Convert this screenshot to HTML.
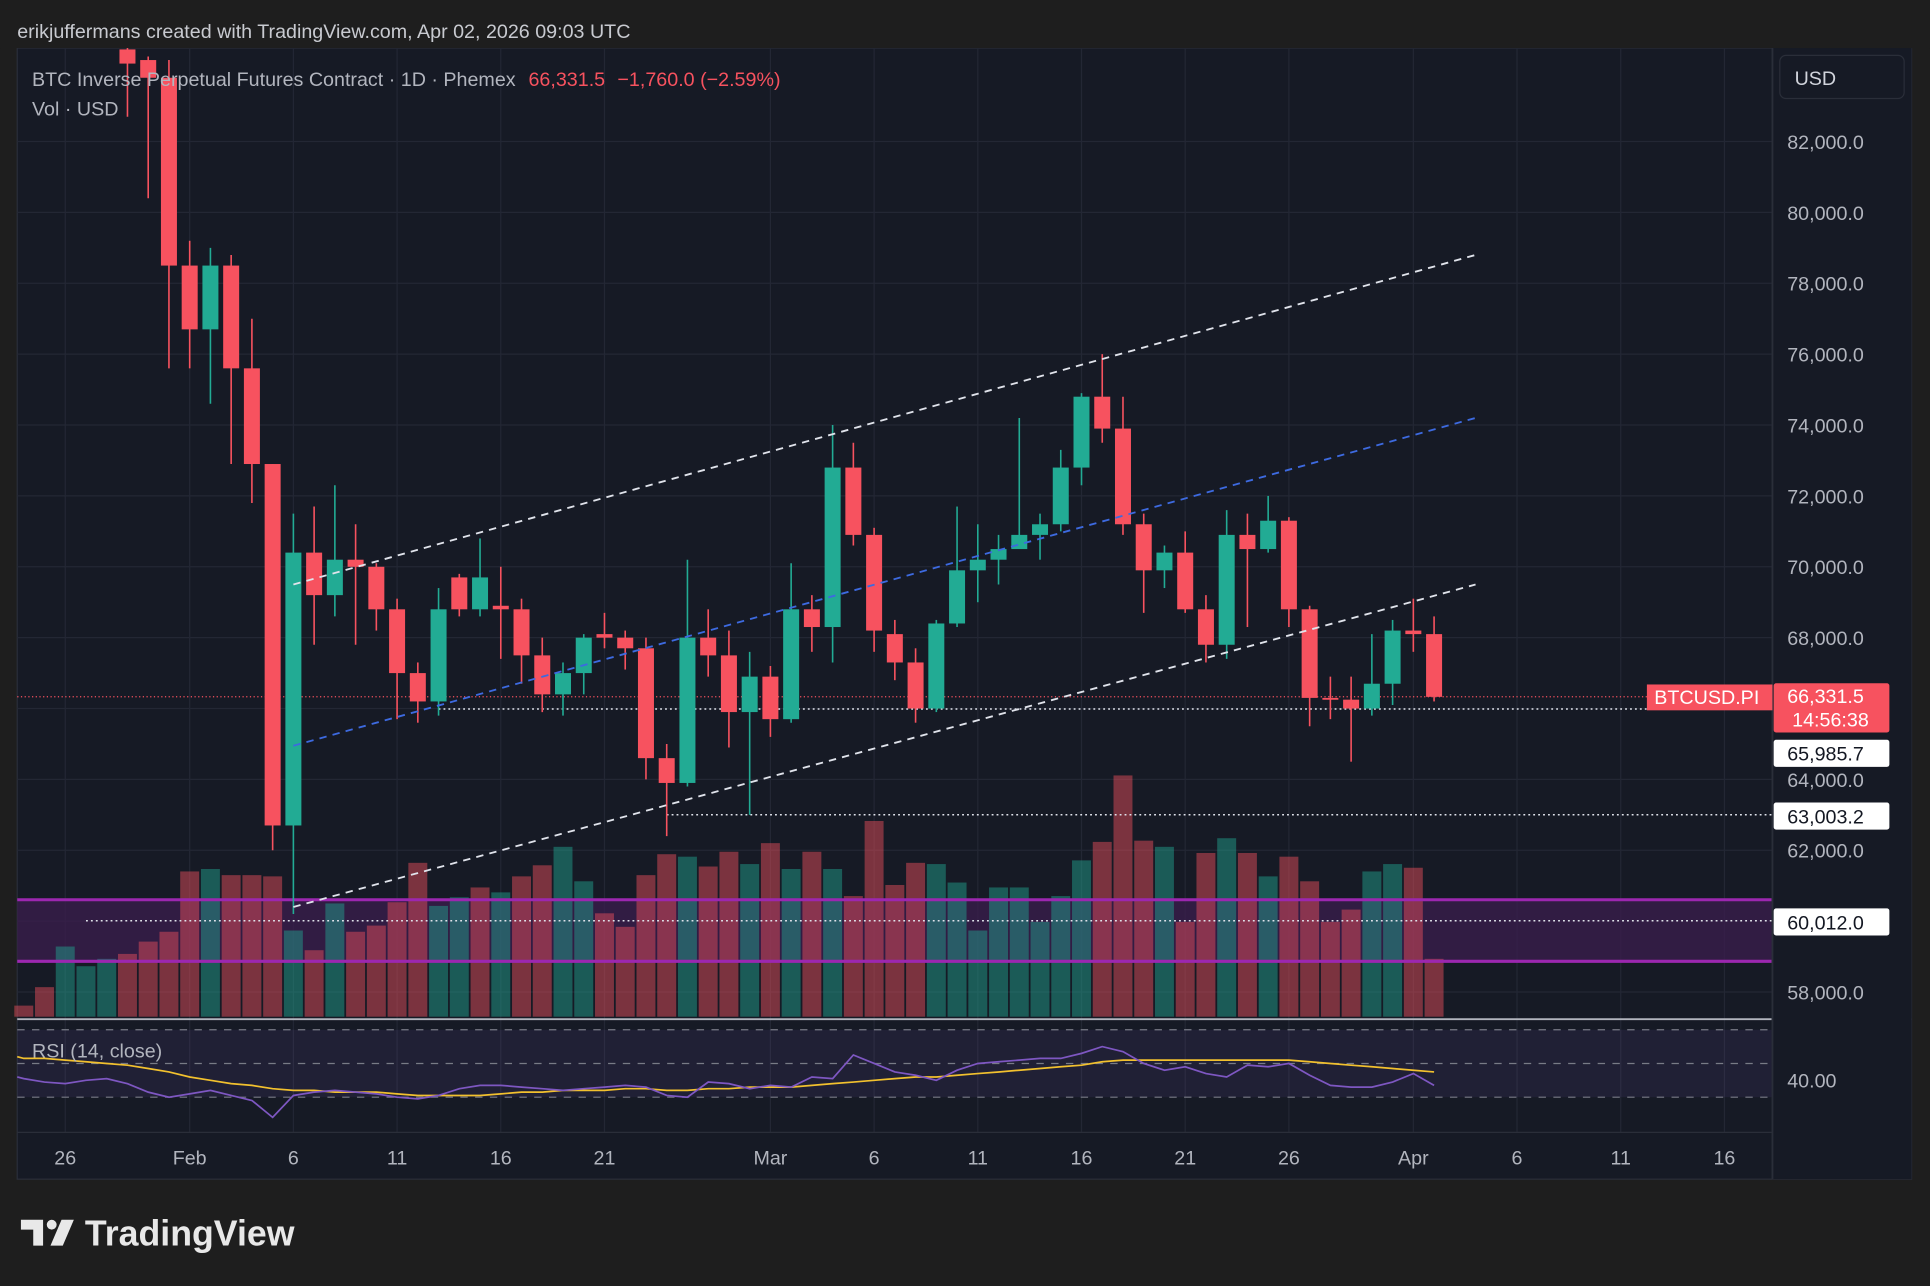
<!DOCTYPE html>
<html><head><meta charset="utf-8">
<style>
html,body{margin:0;padding:0;background:#1e1e1e;}
svg{display:block;font-family:"Liberation Sans",sans-serif;}
</style></head>
<body>
<svg id="c" width="1930" height="1286" viewBox="0 0 1568 1044.8" xmlns="http://www.w3.org/2000/svg">
<rect x="0" y="0" width="1568" height="1045" fill="#1e1e1e"/>
<rect x="14" y="39" width="1539" height="919" fill="#161a25" stroke="#2a2e39"/>
<g id="grid"></g>
<g id="zone"></g>
<g id="vol"></g>
<g id="hlines"></g>
<g id="candles"></g>
<g id="trend"></g>
<g id="rsi"></g>
<g id="axes"></g>
<text x="14" y="31" font-size="16" fill="#c8cad0">erikjuffermans created with TradingView.com, Apr 02, 2026 09:03 UTC</text>
<text x="26" y="70" font-size="16" fill="#b2b5be">BTC Inverse Perpetual Futures Contract · 1D · Phemex <tspan fill="#f7525f" dx="6">66,331.5</tspan><tspan fill="#f7525f" dx="10">−1,760.0 (−2.59%)</tspan></text>
<text x="26" y="94" font-size="16" fill="#b2b5be">Vol · USD</text>
<text x="26" y="859" font-size="16" fill="#b2b5be">RSI (14, close)</text>
<rect x="1446" y="45" width="101" height="35" rx="5" fill="#161a25" stroke="#2a2e39"/>
<text x="1458" y="69" font-size="16" fill="#d1d4dc">USD</text>
<g>
<path d="M17 991 H35 V1012 H27 V999 H17 Z" fill="#e8e8e8"/>
<circle cx="42" cy="995" r="4" fill="#e8e8e8"/>
<path d="M50 991 H60 L51 1012 H41 Z" fill="#e8e8e8"/>
<text x="69" y="1012" font-size="29" font-weight="bold" fill="#e8e8e8">TradingView</text>
</g>
</svg>
<script>
const NS="http://www.w3.org/2000/svg";
// ---- data ----
const startIndex=3; // first candle index (days after Jan 26)
const opens=[84600,84300,83800,78500,76700,78500,75600,72900,62700,70400,69200,70200,70000,68800,67000,66200,69700,68800,68900,68800,67500,66400,67000,68100,68000,67700,64600,63900,68000,67500,65900,66900,65700,68800,68300,72800,70900,68100,67300,66000,68400,69900,70200,70500,70900,71200,72800,74800,73900,71200,69900,70400,68800,67800,70900,70500,71300,68800,66300,66250,66000,66700,68200,68100];
const highs=[84800,84400,84300,79200,79000,78800,77000,72900,71500,71700,72300,71200,70100,69100,67300,69400,69800,70800,70000,69100,68000,67300,68100,68700,68200,68000,65000,70200,68800,68200,67600,67200,70100,69200,74000,73500,71100,68500,67700,68500,71700,71200,70900,74200,71500,73300,74900,76000,74800,71500,70600,71000,69200,71600,71500,72000,71400,68900,66900,66900,68100,68500,69100,68600];
const lows=[82700,80400,75600,75600,74600,72900,71800,62000,60200,67800,68600,67800,68200,65700,65600,65800,68600,68600,67400,66700,65900,65800,66400,67700,67100,64000,62400,63800,66900,64900,63000,65200,65600,67600,67300,70600,67600,66800,65600,65900,68300,69000,69500,70600,70200,71000,72300,73500,70900,68700,69400,68700,67300,67400,68300,70400,68300,65500,65700,64500,65800,66100,67600,66200];
const closes=[84200,83800,78500,76700,78500,75600,72900,62700,70400,69200,70200,70000,68800,67000,66200,68800,68800,69700,68800,67500,66400,67000,68000,68000,67700,64600,63900,68000,67500,65900,66900,65700,68800,68300,72800,70900,68200,67300,66000,68400,69900,70200,70500,70900,71200,72800,74800,73900,71200,69900,70400,68800,67800,70900,70500,71300,68800,66300,66250,66000,66700,68200,68100,66330];
const volStart=-2;
const volumes=[9,24,57,41,47,51,61,69,118,120,115,115,114,70,54,92,69,74,93,125,90,97,105,101,114,123,138,110,84,73,115,132,130,122,134,124,141,120,134,120,98,159,107,125,124,109,70,105,105,77,98,127,142,196,143,138,77,133,145,133,114,130,110,77,87,118,124,121,47];
const volUp=[0,0,1,1,1,0,0,0,0,1,0,0,0,1,0,1,0,0,0,0,1,1,0,1,0,0,1,1,0,0,0,0,1,0,0,1,0,1,0,1,0,0,0,0,1,1,1,1,1,1,1,1,0,0,0,1,0,0,1,0,1,0,0,0,0,1,1,0,0];
const rsiStart=-2;
const rsiVals=[41,39,38,40,41,38,33,30,32,34,31,28,18,31,33,34,33,32,30,29,31,35,37,37,36,35,34,35,36,37,36,31,30,39,38,35,37,36,42,41,55,50,45,43,40,46,50,51,52,53,53,56,60,57,50,46,48,44,42,49,48,50,43,37,36,36,39,44,37];
const rsiMa=[53,53,52,51,50,49,47,45,42,40,38,37,35,34,34,33,33,33,32,31,31,31,31,32,33,33,34,34,34,35,35,34,34,35,35,36,36,36,37,38,39,40,41,42,42,43,44,45,46,47,48,49,51,52,52,52,52,52,52,52,52,52,51,50,49,48,47,46,45];
const priceTicks=[82000,80000,78000,76000,74000,72000,70000,68000,64000,62000,58000];
const gridPrices=[82000,80000,78000,76000,74000,72000,70000,68000,66000,64000,62000,60000,58000];
const timeLabels=["26","Feb","6","11","16","21","Mar","6","11","16","21","26","Apr","6","11","16"];
const timeIdx=[0,6,11,16,21,26,34,39,44,49,54,59,65,70,75,80];
const trendLines=[{a:[11,69500],b:[68,78800],c:"#e0e3eb"},{a:[11,64950],b:[68,74200],c:"#3d6ae0"},{a:[11,60400],b:[68,69500],c:"#e0e3eb"}];
const levels=[{p:65985.7,from:18,lbl:"65,985.7",tagY:612},{p:63003.2,from:29,lbl:"63,003.2",tagY:663},{p:60012.0,from:1,lbl:"60,012.0",tagY:749}];
const lastPrice=66331.5;
const zoneLow=58867, zoneHigh=60604;
// ---- scales ----
const X=i=>53+i*16.85;
const Y=p=>115+(82000-p)/2000*57.58;
const VB=826;
const RY=v=>864-(v-50)*1.37;
const PL=14, PR=1440;
function mk(tag,attrs,parent,name,inter){const e=document.createElementNS(NS,tag);for(const k in attrs)e.setAttribute(k,attrs[k]);


document.getElementById(parent).appendChild(e);return e;}
// grid
gridPrices.forEach(p=>{mk('line',{x1:PL,x2:PR,y1:Y(p),y2:Y(p),stroke:'#232734','stroke-width':1},'grid','price-gridline',false);});
timeIdx.forEach(i=>{mk('line',{x1:X(i),x2:X(i),y1:39,y2:920,stroke:'#232734','stroke-width':1},'grid','time-gridline',false);});
// zone
mk('rect',{x:PL,y:Y(zoneHigh),width:PR-PL,height:Y(zoneLow)-Y(zoneHigh),fill:'#3b1d4d','fill-opacity':0.75},'zone','support-zone',false);
// volume
volumes.forEach((v,k)=>{const i=volStart+k;const x=X(i);
mk('rect',{x:x-7.7,y:VB-v,width:15.4,height:v,fill:volUp[k]?'#22ab94':'#f7525f','fill-opacity':0.45},'vol','volume-bar',false);});
mk('line',{x1:PL,x2:PR,y1:Y(zoneHigh),y2:Y(zoneHigh),stroke:'#9c27b0','stroke-width':2.5},'vol','zone-top-line',false);
mk('line',{x1:PL,x2:PR,y1:Y(zoneLow),y2:Y(zoneLow),stroke:'#9c27b0','stroke-width':2.5},'vol','zone-bottom-line',false);
// h levels
mk('line',{x1:PL,x2:PR,y1:Y(lastPrice),y2:Y(lastPrice),stroke:'#f7525f','stroke-width':1,'stroke-dasharray':'1 2'},'hlines','last-price-line',false);
levels.forEach(l=>{mk('line',{x1:X(l.from),x2:PR,y1:Y(l.p),y2:Y(l.p),stroke:'#e0e3eb','stroke-width':1.2,'stroke-dasharray':'1.5 2.5'},'hlines','level-line',false);});
// candles
opens.forEach((o,k)=>{const i=startIndex+k,x=X(i),c=closes[k],up=c>=o,col=up?'#22ab94':'#f7525f';
mk('line',{x1:x,x2:x,y1:Y(highs[k]),y2:Y(lows[k]),stroke:col,'stroke-width':1.3},'candles','candle-wick',false);
const t=Y(Math.max(o,c)),b=Y(Math.min(o,c));
mk('rect',{x:x-6.5,y:t,width:13,height:Math.max(1.5,b-t),fill:col},'candles','candle-body',false);});
mk('rect',{x:0,y:0,width:1568,height:39,fill:'#1e1e1e'},'candles','top-mask',false);
// trend
trendLines.forEach(t=>{mk('line',{x1:X(t.a[0]),y1:Y(t.a[1]),x2:X(t.b[0]),y2:Y(t.b[1]),stroke:t.c,'stroke-width':1.5,'stroke-dasharray':'6 5'},'trend','channel-line',true);});
// rsi pane
mk('line',{x1:PL,x2:1553,y1:828,y2:828,stroke:'#b2b5be','stroke-width':1.5},'rsi','pane-separator',false);
mk('rect',{x:PL,y:RY(70),width:PR-PL,height:RY(30)-RY(70),fill:'#7e57c2','fill-opacity':0.1},'rsi','rsi-band',false);
[70,50,30].forEach(v=>{mk('line',{x1:PL,x2:PR,y1:RY(v),y2:RY(v),stroke:'#787b86','stroke-width':1,'stroke-dasharray':'6 6'},'rsi','rsi-level-'+v,false);});
let d='';rsiMa.forEach((v,k)=>{d+=(k?'L':'M')+X(rsiStart+k).toFixed(1)+' '+RY(v).toFixed(1);});
mk('path',{d:'M14 '+RY(54)+' L'+d.slice(1),fill:'none',stroke:'#f2c12e','stroke-width':1.4},'rsi','rsi-ma-line',false);
d='';rsiVals.forEach((v,k)=>{d+=(k?'L':'M')+X(rsiStart+k).toFixed(1)+' '+RY(v).toFixed(1);});
mk('path',{d:'M14 '+RY(42)+' L'+d.slice(1),fill:'none',stroke:'#7e57c2','stroke-width':1.4},'rsi','rsi-line',false);
mk('line',{x1:PL,x2:PR,y1:920,y2:920,stroke:'#2a2e39'},'rsi','time-axis-border',false);
// axes
mk('rect',{x:PR,y:39,width:1553-PR,height:919,fill:'#161a25'},'axes','price-axis-bg',false);
mk('line',{x1:PR,x2:PR,y1:39,y2:958,stroke:'#2a2e39','stroke-width':1.5},'axes','price-axis-border',false);
priceTicks.forEach(p=>{const t=mk('text',{x:1452,y:Y(p)+6,'font-size':16,fill:'#b2b5be'},'axes','price-tick-label',false);t.textContent=p.toLocaleString('en-US')+'.0';});
const rl=mk('text',{x:1452,y:RY(40)+6,'font-size':16,fill:'#b2b5be'},'axes','rsi-tick-label',false);rl.textContent='40.00';
timeLabels.forEach((s,k)=>{const t=mk('text',{x:X(timeIdx[k]),y:946,'font-size':16,fill:'#b2b5be','text-anchor':'middle'},'axes','time-tick-label',false);t.textContent=s;});
levels.forEach(l=>{const y=l.tagY;mk('rect',{x:1441,y:y-11,width:94,height:22,fill:'#ffffff',rx:2},'axes','level-price-tag',false);
const t=mk('text',{x:1452,y:y+6,'font-size':16,fill:'#131722'},'axes','level-price-text',false);t.textContent=l.lbl;});
const ly=Y(lastPrice);
mk('rect',{x:1338,y:ly-10,width:102,height:21,fill:'#f7525f'},'axes','symbol-tag',false);
const st=mk('text',{x:1344,y:ly+6,'font-size':16,fill:'#ffffff'},'axes','symbol-tag-text',false);st.textContent='BTCUSD.PI';
mk('rect',{x:1441,y:ly-11,width:94,height:40,fill:'#f7525f',rx:2},'axes','last-price-tag',false);
const lt=mk('text',{x:1452,y:ly+5,'font-size':16,fill:'#ffffff'},'axes','last-price-text',false);lt.textContent='66,331.5';
const ct=mk('text',{x:1456,y:ly+24,'font-size':16,fill:'#ffffff'},'axes','countdown-text',false);ct.textContent='14:56:38';
</script>
</body></html>
